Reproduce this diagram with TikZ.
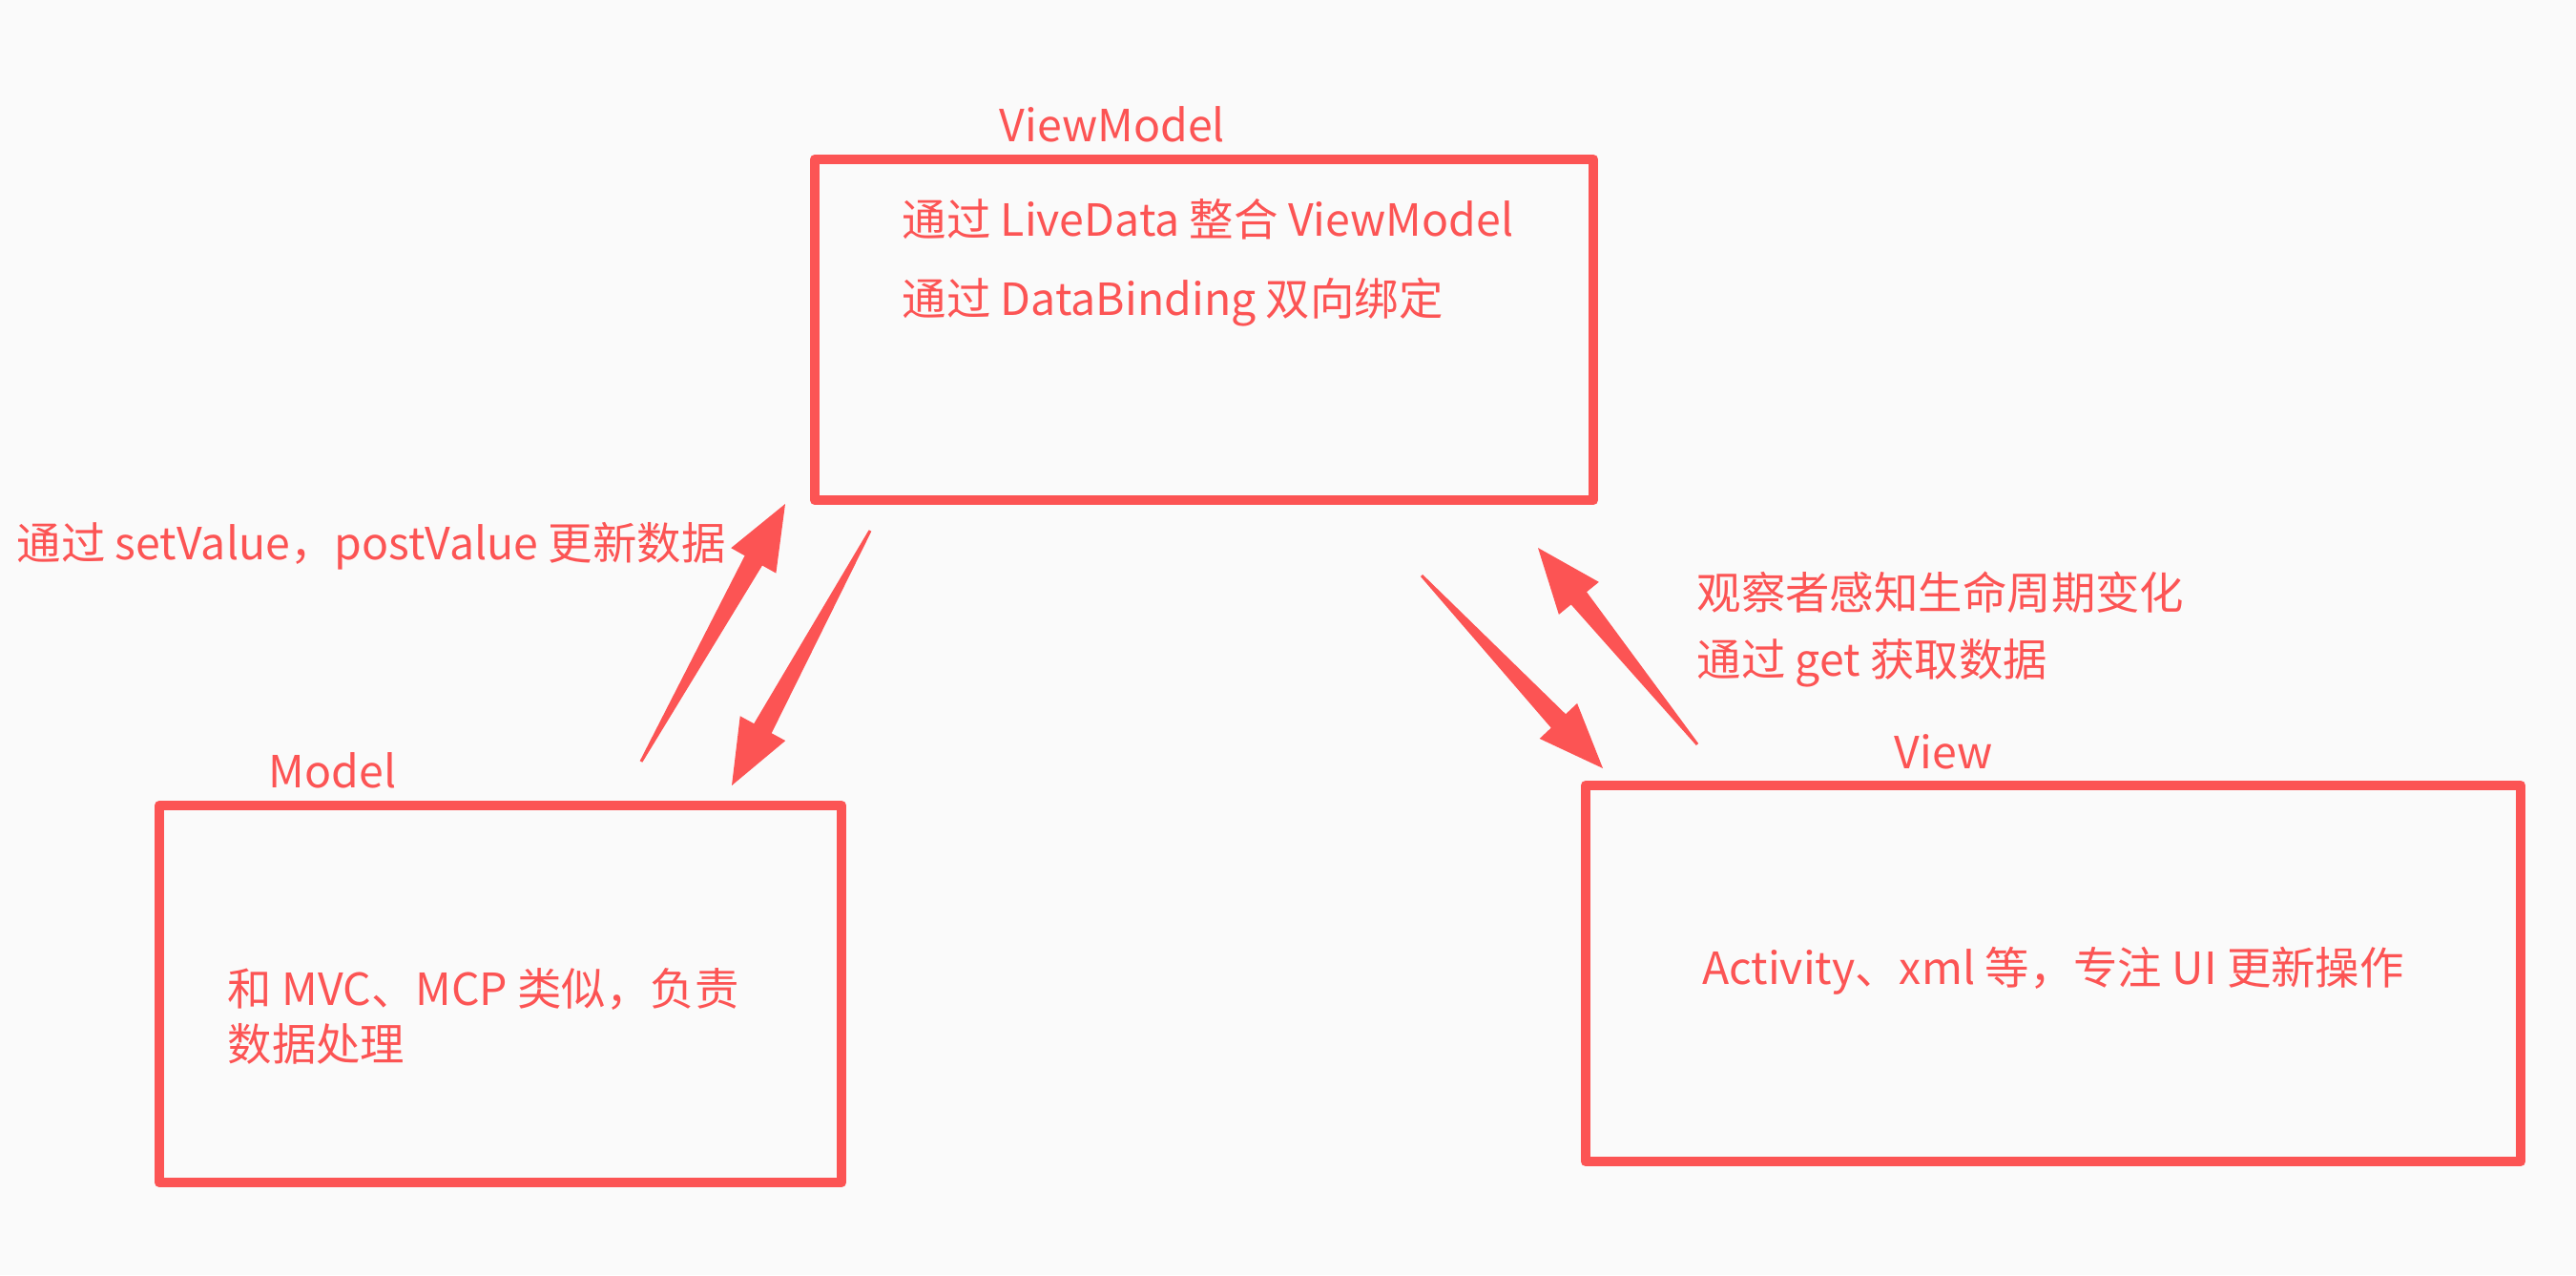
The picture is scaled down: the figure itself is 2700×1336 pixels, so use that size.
\documentclass[tikz,border=0pt]{standalone}
\usepackage{fontspec}
\setmainfont{Noto Sans CJK SC}
\usetikzlibrary{calc}
\definecolor{ink}{RGB}{252,84,84}
\definecolor{bg}{RGB}{250,250,250}
\tikzset{
  box/.style={draw=ink, line width=0.1cm, line join=round, inner sep=0pt, fill=none},
  lbl/.style={text=ink, font=\fontsize{13.2pt}{16pt}\selectfont, inner sep=0pt},
  taper/.style={fill=ink},
}
% tapered arrow from tail #1 to tip #2
\newcommand{\taperarrow}[2]{%
  \coordinate (#1-b) at ($(#2)!0.68cm!(#1)$);
  \fill[taper] ($(#1)!0.015cm!90:(#2)$)
    -- ($(#1-b)!0.105cm!90:(#2)$)
    -- ($(#1-b)!0.27cm!90:(#2)$)
    -- (#2)
    -- ($(#1-b)!0.27cm!-90:(#2)$)
    -- ($(#1-b)!0.105cm!-90:(#2)$)
    -- ($(#1)!0.015cm!-90:(#2)$) -- cycle;
}
\begin{document}
\begin{tikzpicture}[x=0.01cm,y=-0.01cm]
\fill[bg] (0,0) rectangle (2700,1336);
\useasboundingbox (0,0) rectangle (2700,1336);

% boxes
\node[box, minimum width=8.16cm, minimum height=3.57cm] (vm) at (1262,345.5) {};
\node[box, minimum width=7.15cm, minimum height=3.95cm] (m) at (524.5,1041.5) {};
\node[box, minimum width=9.80cm, minimum height=3.94cm] (v) at (2152,1020) {};

% titles
\node[lbl, anchor=base] (vmt) at (1166,148) {ViewModel};
\node[lbl, anchor=base west] (mt) at (281,825) {Model};
\node[lbl, anchor=base west] (vt) at (1985,805) {View};

% box texts
\node[lbl, anchor=base west] (vm1) at (945,247) {通过 LiveData 整合 ViewModel};
\node[lbl, anchor=base west] (vm2) at (945,330) {通过 DataBinding 双向绑定};
\node[lbl, anchor=base west] (m1) at (238,1053) {和 MVC、MCP 类似，负责};
\node[lbl, anchor=base west] (m2) at (238,1111) {数据处理};
\node[lbl, anchor=base] (v1) at (2152,1031) {Activity、xml 等，专注 UI 更新操作};

% side labels
\node[lbl, anchor=base west] (ll) at (17,586) {通过 setValue，postValue 更新数据};
\node[lbl, anchor=base west] (rl1) at (1778,638) {观察者感知生命周期变化};
\node[lbl, anchor=base west] (rl2) at (1778,708) {通过 get 获取数据};

% arrows
\coordinate (mupT) at (672,798);  \coordinate (mupP) at (823,528);
\coordinate (mdnT) at (912,556);  \coordinate (mdnP) at (767,823);
\coordinate (vdnT) at (1490,603); \coordinate (vdnP) at (1680,805);
\coordinate (vupT) at (1779,780); \coordinate (vupP) at (1612,574);
\taperarrow{mupT}{mupP}
\taperarrow{mdnT}{mdnP}
\taperarrow{vdnT}{vdnP}
\taperarrow{vupT}{vupP}
\end{tikzpicture}
\end{document}
